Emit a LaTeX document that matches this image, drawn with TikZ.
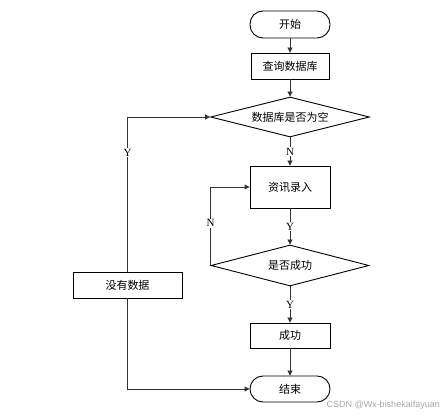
\documentclass[tikz,border=0pt]{standalone}
\usepackage{fontspec}
\setmainfont{Liberation Serif}
\newfontfamily\cjk{Noto Sans CJK SC}
\newfontfamily\wmfont{Liberation Sans}
\usetikzlibrary{shapes.geometric,arrows.meta}
\begin{document}
\begin{tikzpicture}[x=1pt,y=-1pt,
  box/.style={draw, line width=0.9pt, inner sep=0pt, minimum width=78pt, minimum height=26pt, font=\cjk\fontsize{11}{12}\selectfont},
  term/.style={box, rounded corners=13pt},
  dec/.style={draw, line width=0.9pt, diamond, shape aspect=4, inner sep=0pt, font=\cjk\fontsize{11}{12}\selectfont},
  conn/.style={draw=black!80, line width=0.9pt},
  arr/.style={conn, -{Triangle[length=5pt,width=5pt]}},
  lab/.style={fill=white, inner sep=1pt, font=\fontsize{11}{12}\selectfont}
]
\useasboundingbox (0,0) rectangle (440,417);
\node[term, minimum width=80pt, minimum height=27pt] (start) at (290,24.5) {开始};
\node[box, minimum width=78pt, minimum height=26pt] (q) at (290,66) {查询数据库};
\node[dec, minimum width=159pt, minimum height=40pt] (d1) at (290,117) {数据库是否为空};
\node[box, minimum width=80pt, minimum height=42pt] (r) at (290,187) {资讯录入};
\node[dec, minimum width=158pt, minimum height=41pt] (d2) at (290,265.5) {是否成功};
\node[box, minimum width=80pt, minimum height=25pt] (ok) at (290,335.5) {成功};
\node[term, minimum width=80pt, minimum height=26pt] (fin) at (290,389) {结束};
\node[box, minimum width=109pt, minimum height=26pt] (nd) at (127.5,285) {没有数据};
\node[font=\wmfont\fontsize{9}{10}\selectfont, text=black!35, anchor=east, inner sep=0pt] (wm) at (440,405) {CSDN @Wx-bishekaifayuan};

\draw[arr] (start.south) -- (q.north);
\draw[arr] (q.south) -- (d1.north);
\draw[arr] (d1.south) -- node[lab, pos=0.5] {N} (r.north);
\draw[arr] (r.south) -- node[lab, pos=0.5] {Y} (d2.north);
\draw[arr] (d2.south) -- node[lab, pos=0.5] {Y} (ok.north);
\draw[arr] (ok.south) -- (fin.north);
\coordinate (nc) at (d2.west |- r.west);
\draw[arr] (d2.west) -- node[lab, pos=0.54] {N} (nc) -- (r.west);
\coordinate (yc) at (nd.north |- d1.west);
\draw[arr] (nd.north) -- node[lab, pos=0.77] {Y} (yc) -- (d1.west);
\coordinate (ec) at (nd.south |- fin.west);
\draw[arr] (nd.south) -- (ec) -- (fin.west);
\end{tikzpicture}
\end{document}
